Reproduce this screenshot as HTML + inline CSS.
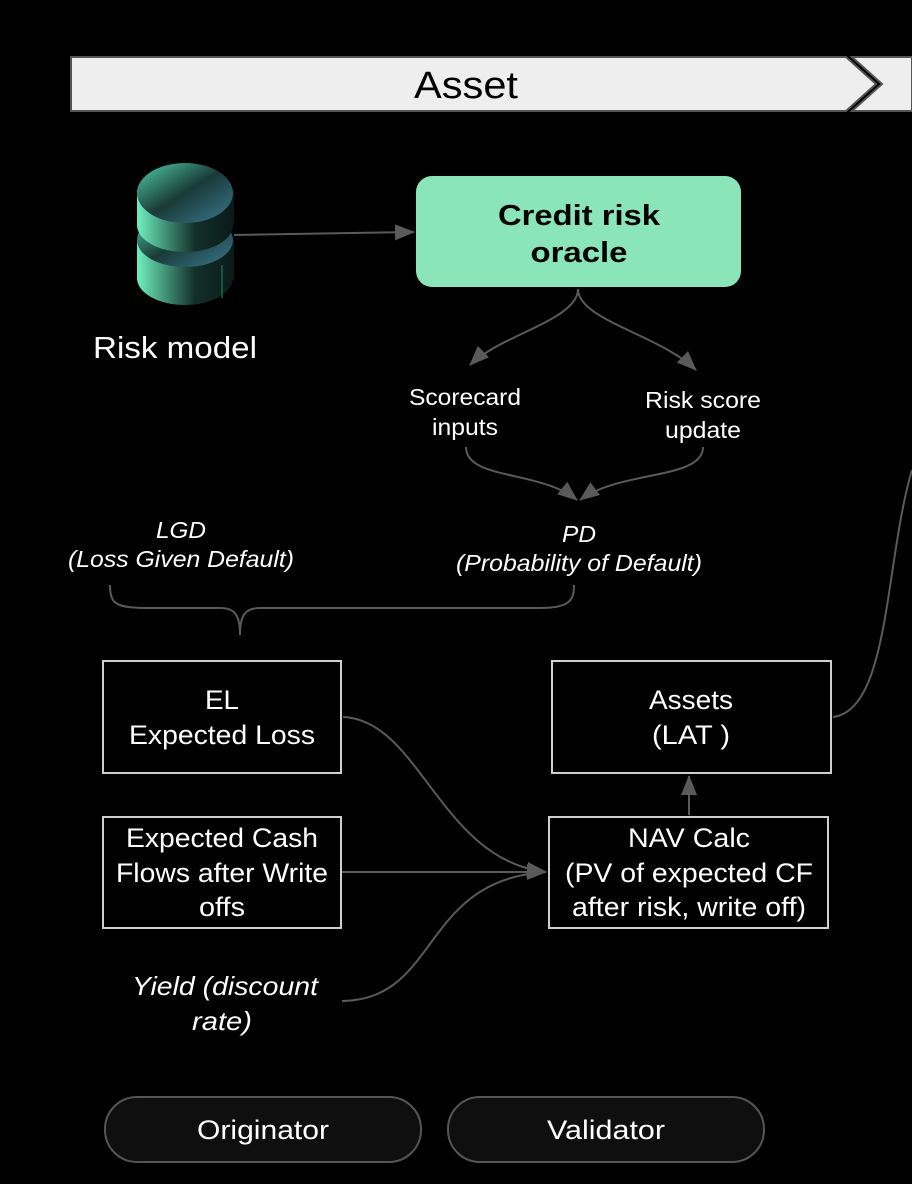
<!DOCTYPE html>
<html><head><style>
body{margin:0;background:#000;width:912px;height:1184px;overflow:hidden;font-family:"Liberation Sans",sans-serif;}
</style></head><body>
<svg width="912" height="1184" viewBox="0 0 912 1184" xmlns="http://www.w3.org/2000/svg" style="display:block">
<defs>
<marker id="b" markerWidth="20" markerHeight="16" refX="19" refY="8" orient="auto" markerUnits="userSpaceOnUse" viewBox="0 0 20 16"><path d="M0,0 L20,8 L0,16 z" fill="#5a5a5a"/></marker>
<linearGradient id="g" x1="0" y1="0" x2="1" y2="0"><stop offset="0" stop-color="#6ff0c0"/><stop offset="0.6" stop-color="#14302a"/><stop offset="1" stop-color="#0a1a18"/></linearGradient>
<linearGradient id="g2" x1="0" y1="0" x2="1" y2="1"><stop offset="0" stop-color="#4fd0a8"/><stop offset="0.5" stop-color="#1a3a38"/><stop offset="1" stop-color="#3a7a90"/></linearGradient>
</defs>
<polygon points="71,57 846,57 876,84 846,111 71,111" fill="#eeeeee" stroke="#555" stroke-width="2"/>
<polygon points="852,57 912,57 912,111 852,111 882,84" fill="#eeeeee" stroke="#555" stroke-width="2"/>
<text x="466" y="98" font-size="38" text-anchor="middle" fill="#000" textLength="104" lengthAdjust="spacingAndGlyphs">Asset</text>
<!-- database -->
<rect x="137" y="240" width="97" height="40" fill="url(#g)"/>
<ellipse cx="185" cy="278" rx="48" ry="27" fill="url(#g)"/>
<ellipse cx="185" cy="240" rx="48" ry="27" fill="url(#g2)"/>
<rect x="137" y="190" width="97" height="35" fill="url(#g)"/>
<ellipse cx="185" cy="225" rx="48" ry="27" fill="url(#g)"/>
<ellipse cx="185" cy="193" rx="48" ry="30" fill="url(#g2)"/>
<line x1="222" y1="265" x2="222" y2="298" stroke="#2a8a60" stroke-width="1"/>
<text x="175" y="358" font-size="31" text-anchor="middle" fill="#fff" textLength="164" lengthAdjust="spacingAndGlyphs">Risk model</text>
<line x1="234" y1="235" x2="414" y2="232" stroke="#5a5a5a" stroke-width="2" marker-end="url(#b)"/>
<rect x="416" y="176" width="325" height="111" rx="16" fill="#8ae6b9"/>
<text x="579" y="225" font-size="29" font-weight="bold" text-anchor="middle" fill="#000" textLength="162" lengthAdjust="spacingAndGlyphs">Credit risk</text>
<text x="579" y="262" font-size="29" font-weight="bold" text-anchor="middle" fill="#000" textLength="97" lengthAdjust="spacingAndGlyphs">oracle</text>
<path d="M578,289 C578,320 500,335 470,365" stroke="#5a5a5a" stroke-width="2" fill="none" marker-end="url(#b)"/>
<path d="M578,289 C578,320 660,335 696,370" stroke="#5a5a5a" stroke-width="2" fill="none" marker-end="url(#b)"/>
<g font-size="23" fill="#fff" text-anchor="middle">
<text x="465" y="405" textLength="112" lengthAdjust="spacingAndGlyphs">Scorecard</text><text x="465" y="435" textLength="66" lengthAdjust="spacingAndGlyphs">inputs</text>
<text x="703" y="408" textLength="116" lengthAdjust="spacingAndGlyphs">Risk score</text><text x="703" y="438" textLength="76" lengthAdjust="spacingAndGlyphs">update</text>
</g>
<path d="M466,447 C466,480 540,470 577,500" stroke="#5a5a5a" stroke-width="2" fill="none" marker-end="url(#b)"/>
<path d="M703,447 C703,480 620,470 580,500" stroke="#5a5a5a" stroke-width="2" fill="none" marker-end="url(#b)"/>
<g font-size="23" fill="#fff" text-anchor="middle" font-style="italic">
<text x="181" y="538" textLength="50" lengthAdjust="spacingAndGlyphs">LGD</text><text x="181" y="567" textLength="226" lengthAdjust="spacingAndGlyphs">(Loss Given Default)</text>
<text x="579" y="542" textLength="34" lengthAdjust="spacingAndGlyphs">PD</text><text x="579" y="571" textLength="246" lengthAdjust="spacingAndGlyphs">(Probability of Default)</text>
<text x="225" y="995" font-size="26" textLength="186" lengthAdjust="spacingAndGlyphs">Yield (discount</text><text x="222" y="1030" font-size="26" textLength="60" lengthAdjust="spacingAndGlyphs">rate)</text>
</g>
<path d="M110,585 C110,610 120,608 180,608 L220,608 C235,608 240,615 240,635 C240,615 245,608 260,608 L540,608 C570,608 574,600 574,585" stroke="#5a5a5a" stroke-width="2" fill="none"/>
<g stroke="#cfcfcf" stroke-width="2" fill="#000">
<rect x="103" y="661" width="238" height="112"/>
<rect x="552" y="661" width="279" height="112"/>
<rect x="103" y="817" width="238" height="111"/>
<rect x="549" y="817" width="279" height="111"/>
</g>
<g font-size="27" fill="#fff" text-anchor="middle">
<text x="222" y="709" textLength="34" lengthAdjust="spacingAndGlyphs">EL</text><text x="222" y="744" textLength="186" lengthAdjust="spacingAndGlyphs">Expected Loss</text>
<text x="691" y="709" textLength="84" lengthAdjust="spacingAndGlyphs">Assets</text><text x="691" y="744" textLength="78" lengthAdjust="spacingAndGlyphs">(LAT )</text>
<text x="222" y="847" textLength="192" lengthAdjust="spacingAndGlyphs">Expected Cash</text><text x="222" y="882" textLength="212" lengthAdjust="spacingAndGlyphs">Flows after Write</text><text x="222" y="916" textLength="46" lengthAdjust="spacingAndGlyphs">offs</text>
<text x="689" y="847" textLength="122" lengthAdjust="spacingAndGlyphs">NAV Calc</text><text x="689" y="882" textLength="248" lengthAdjust="spacingAndGlyphs">(PV of expected CF</text><text x="689" y="916" textLength="234" lengthAdjust="spacingAndGlyphs">after risk, write off)</text>
</g>
<path d="M343,717 C420,720 440,860 546,872" stroke="#5a5a5a" stroke-width="2" fill="none" marker-end="url(#b)"/>
<line x1="342" y1="872" x2="546" y2="872" stroke="#5a5a5a" stroke-width="2" marker-end="url(#b)"/>
<path d="M342,1001 C440,1000 420,880 546,872" stroke="#5a5a5a" stroke-width="2" fill="none"/>
<line x1="689" y1="815" x2="689" y2="776" stroke="#5a5a5a" stroke-width="2" marker-end="url(#b)"/>
<path d="M833,717 C890,710 885,560 912,470" stroke="#5a5a5a" stroke-width="2" fill="none"/>
<g stroke="#555" stroke-width="2" fill="#0f0f0f">
<rect x="105" y="1097" width="316" height="65" rx="32"/>
<rect x="448" y="1097" width="316" height="65" rx="32"/>
</g>
<text x="263" y="1139" font-size="27" fill="#fff" text-anchor="middle" textLength="132" lengthAdjust="spacingAndGlyphs">Originator</text>
<text x="606" y="1139" font-size="27" fill="#fff" text-anchor="middle" textLength="118" lengthAdjust="spacingAndGlyphs">Validator</text>
</svg>
</body></html>
